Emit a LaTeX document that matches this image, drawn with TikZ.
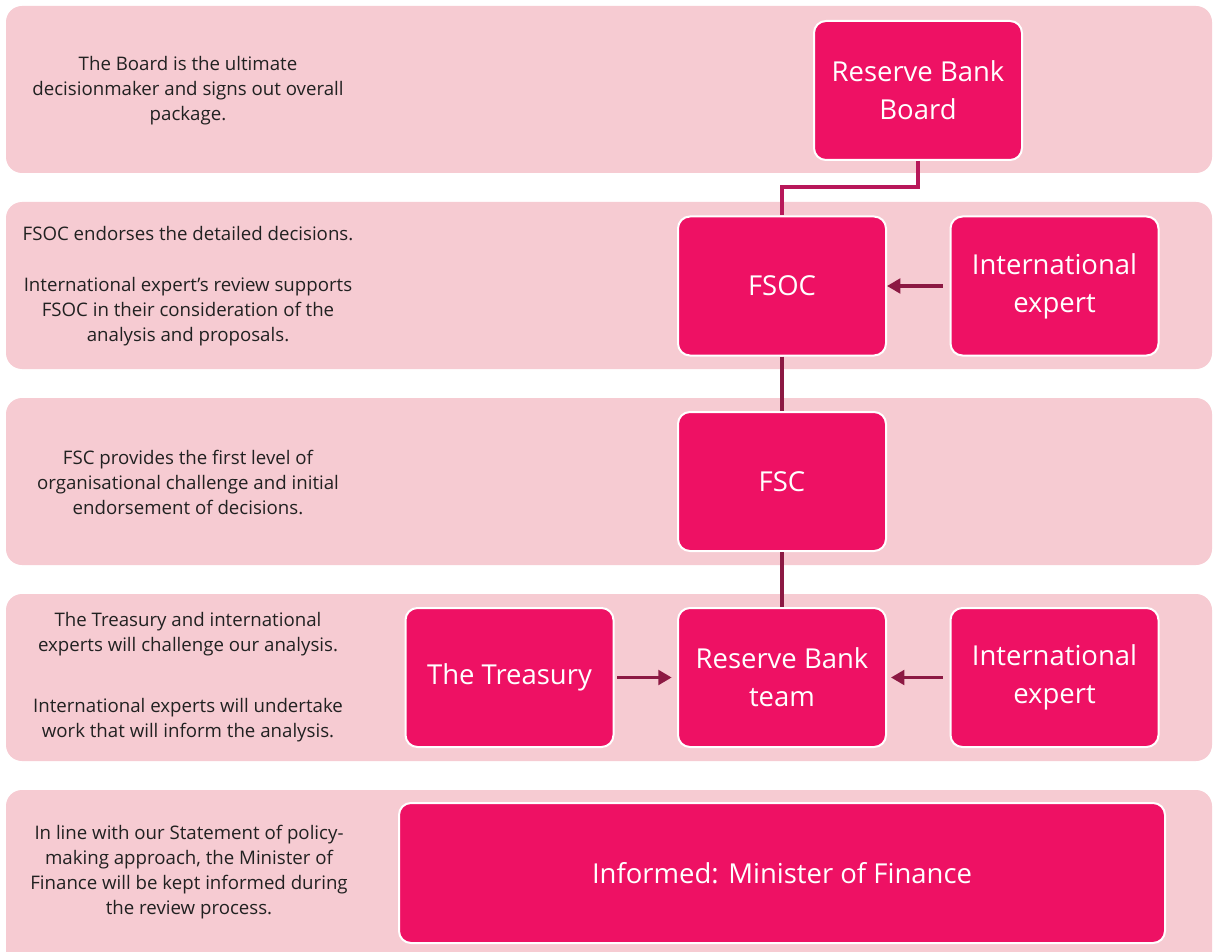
\documentclass[tikz,border=0pt]{standalone}
\usepackage{fontspec}
\setmainfont{Open Sans}
\usetikzlibrary{arrows.meta}
\definecolor{bandc}{HTML}{F6CBD2}
\definecolor{boxc}{HTML}{EE1164}
\definecolor{arrc}{HTML}{8C1943}
\definecolor{elbc}{HTML}{B8185A}
\begin{document}
\begin{tikzpicture}[x=0.75pt,y=-0.75pt,
 band/.style={fill=bandc, rounded corners=12pt},
 box/.style={fill=boxc, draw=white, line width=1.5pt, rounded corners=9pt, text=white,
   font=\fontsize{20.6}{28.5}\selectfont, align=center, inner sep=0pt,
   minimum width=156pt, minimum height=104.25pt},
 desc/.style={text=black!87, font=\fontsize{14}{18.75}\selectfont, align=center, inner sep=0pt},
 link/.style={draw=arrc, line width=2.3pt},
 elbow/.style={draw=elbc, line width=2.3pt},
 flow/.style={draw=arrc, line width=2.3pt, -{Triangle[length=10pt,width=11pt]}}]
\useasboundingbox (0,0) rectangle (1213,952);
% bands
\path[band] (6,6) rectangle (1212,173);
\path[band] (6,202) rectangle (1212,369);
\path[band] (6,398) rectangle (1212,565);
\path[band] (6,594) rectangle (1212,761);
\path[band] (6,790) rectangle (1212,970);
% boxes
\node[box] (board) at (918,90.5) {Reserve Bank\\Board};
\node[box] (fsoc) at (782,286) {FSOC};
\node[box] (ie1) at (1054.5,286) {International\\expert};
\node[box] (fsc) at (782,481.5) {FSC};
\node[box] (treas) at (509.5,677.5) {The Treasury};
\node[box] (rbt) at (782,677.5) {Reserve Bank\\team};
\node[box] (ie2) at (1054.5,677.5) {International\\expert};
\node[box, minimum width=574.5pt, minimum height=105pt] (inf) at (782,873) {Informed: Minister of Finance};
% connectors
\draw[elbow] (board.south) -- ++(0,26) -| (fsoc.north);
\draw[link] (fsoc.south) -- (fsc.north);
\draw[link] (fsc.south) -- (rbt.north);
\draw[flow, shorten <=5pt] (ie1) -- (fsoc);
\draw[flow, shorten <=2pt, shorten >=4pt] (treas) -- (rbt);
\draw[flow, shorten <=5pt, shorten >=3pt] (ie2) -- (rbt);
% descriptions
\node[desc] (t1) at (188,91) {The Board is the ultimate\\decisionmaker and signs out overall\\package.};
\node[desc] (t2) at (188,286.5) {FSOC endorses the detailed decisions.\\[19.5pt]International expert's review supports\\FSOC in their consideration of the\\analysis and proposals.};
\node[desc] (t3) at (188,482) {FSC provides the first level of\\organisational challenge and initial\\endorsement of decisions.};
\node[desc] (t4) at (188,677.5) {The Treasury and international\\experts will challenge our analysis.\\[27pt]International experts will undertake\\work that will inform the analysis.};
\node[desc] (t5) at (189,872.5) {In line with our Statement of policy-\\making approach, the Minister of\\Finance will be kept informed during\\the review process.};
\end{tikzpicture}
\end{document}
